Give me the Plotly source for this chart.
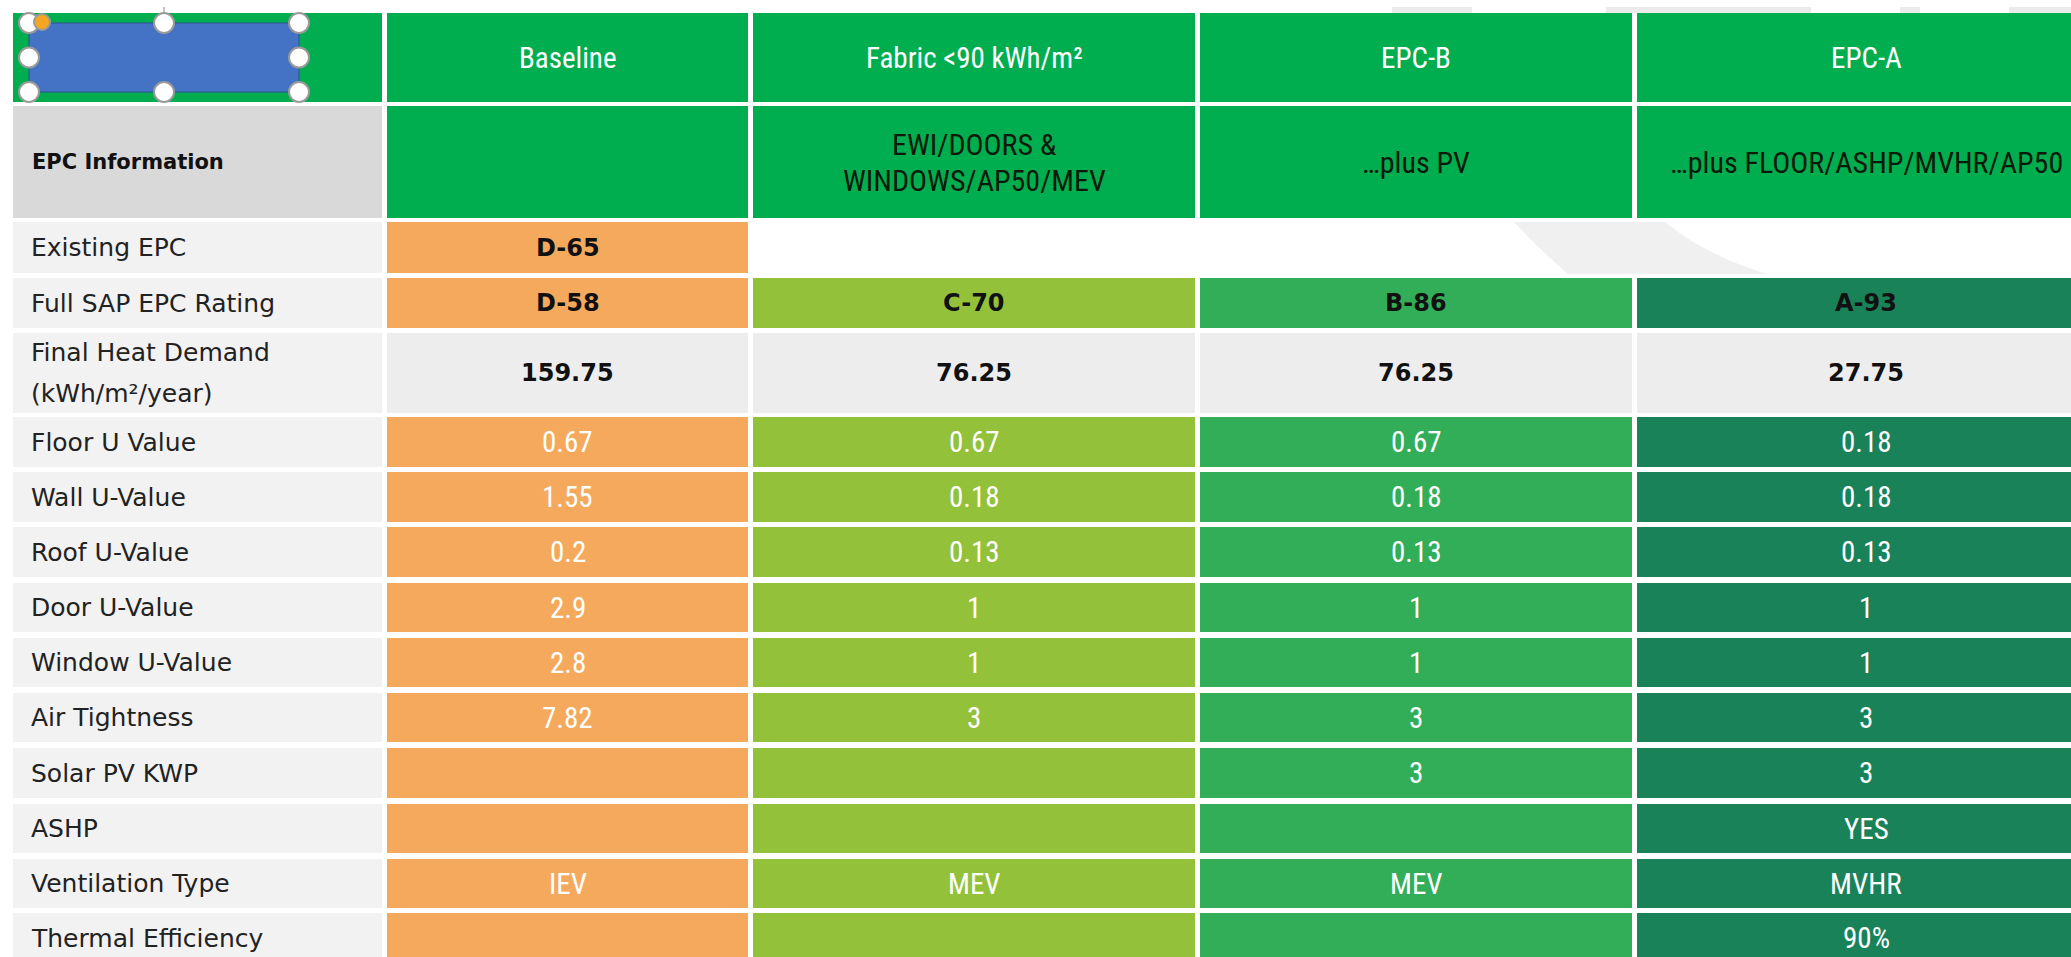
import plotly.graph_objects as go

# ---------------- data ----------------
scenarios = ["Baseline", "Fabric <90 kWh/m²", "EPC-B", "EPC-A"]
descriptions = ["", "EWI/DOORS &<br>WINDOWS/AP50/MEV", "…plus PV", "…plus FLOOR/ASHP/MVHR/AP50"]
section_label = "EPC Information"
row_labels = ["Existing EPC", "Full SAP EPC Rating", "Final Heat Demand<br>(kWh/m²/year)",
              "Floor U Value", "Wall U-Value", "Roof U-Value", "Door U-Value",
              "Window U-Value", "Air Tightness", "Solar PV KWP", "ASHP",
              "Ventilation Type", "Thermal Efficiency"]
existing_epc = ["D-65", None, None, None]
sap_rating = ["D-58", "C-70", "B-86", "A-93"]
heat_demand = ["159.75", "76.25", "76.25", "27.75"]
floor_u = ["0.67", "0.67", "0.67", "0.18"]
wall_u = ["1.55", "0.18", "0.18", "0.18"]
roof_u = ["0.2", "0.13", "0.13", "0.13"]
door_u = ["2.9", "1", "1", "1"]
window_u = ["2.8", "1", "1", "1"]
air_tightness = ["7.82", "3", "3", "3"]
solar_pv_kwp = ["", "", "3", "3"]
ashp = ["", "", "", "YES"]
ventilation = ["IEV", "MEV", "MEV", "MVHR"]
thermal_eff = ["", "", "", "90%"]

table_rows = [existing_epc, sap_rating, heat_demand, floor_u, wall_u, roof_u, door_u,
              window_u, air_tightness, solar_pv_kwp, ashp, ventilation, thermal_eff]

# ---------------- layout / style ----------------
W, H = 2071, 957
col_edges = [(13, 382), (387, 748), (753, 1195), (1200, 1632), (1637, 2095)]
header_edges = (13, 102)
desc_edges = (106, 218)
row_edges = [(222, 273), (278, 328), (333, 413), (417, 467), (472, 522), (527, 577),
             (583, 632), (638, 687), (693, 742), (748, 798), (804, 853), (859, 908), (913, 963)]

HEADER_GREEN = "#00AE4F"
scen_colors = ["#F5A95D", "#93C23A", "#33AE58", "#1A8259"]
LABEL_BG = "#F2F2F2"
SECTION_BG = "#D9D9D9"
DEMAND_BG = "#EDEDED"
WATERMARK = "#F0F0F0"

label_font = "'DejaVu Sans', Lato, sans-serif"
value_font = "'Liberation Sans Narrow', 'Roboto Condensed', 'Arial Narrow', Roboto, sans-serif"

shapes = []
annotations = []


def rect(x0, x1, y0, y1, color, line=None, lw=0):
    shapes.append(dict(type="rect", xref="x", yref="y", x0=x0, x1=x1, y0=y0, y1=y1,
                       fillcolor=color, line=dict(width=lw, color=line or color),
                       layer="below"))


def text(x, y, s, size, color, font, bold=False, align="center"):
    if bold:
        s = "<b>" + s + "</b>"
    annotations.append(dict(x=x, y=y, xref="x", yref="y", text=s, showarrow=False,
                            xanchor=align if align != "center" else "center",
                            yanchor="middle", align=align,
                            font=dict(size=size, color=color, family=font)))


# watermark pieces
shapes.append(dict(type="path", xref="x", yref="y", layer="below",
                   path="M 1514 222 L 1665 222 Q 1705 255 1767 274 L 1568 274 Q 1540 250 1514 222 Z",
                   fillcolor=WATERMARK, line=dict(width=0)))
for (a, b) in [(1392, 1472), (1606, 1811), (1900, 1920), (2009, 2071)]:
    rect(a, b, 7, 13, "#EBEBEB")

# header row
for j, (x0, x1) in enumerate(col_edges):
    rect(x0, x1, header_edges[0], header_edges[1], HEADER_GREEN)
    if j > 0:
        text((x0 + x1) / 2, (header_edges[0] + header_edges[1]) / 2, scenarios[j - 1],
             29, "white", value_font)

# description row
x0, x1 = col_edges[0]
rect(x0, x1, desc_edges[0], desc_edges[1], SECTION_BG)
text(30, (desc_edges[0] + desc_edges[1]) / 2, section_label, 21, "#111111", label_font,
     bold=True, align="left")
for j, (x0, x1) in enumerate(col_edges[1:]):
    rect(x0, x1, desc_edges[0], desc_edges[1], HEADER_GREEN)
    lines = descriptions[j].split("<br>") if descriptions[j] else []
    ym = (desc_edges[0] + desc_edges[1]) / 2
    for k, ln in enumerate(lines):
        text((x0 + x1) / 2, ym + (k - (len(lines) - 1) / 2) * 36, ln, 30, "#0A1A0A", value_font)

# body rows
for i, (lab, vals) in enumerate(zip(row_labels, table_rows)):
    y0, y1 = row_edges[i]
    ym = (y0 + y1) / 2
    lx0, lx1 = col_edges[0]
    rect(lx0, lx1, y0, y1, LABEL_BG)
    lab_lines = lab.split("<br>")
    for k, ln in enumerate(lab_lines):
        text(29, ym + (k - (len(lab_lines) - 1) / 2) * 41, ln, 25, "#222222", label_font,
             align="left")
    for j, (x0, x1) in enumerate(col_edges[1:]):
        v = vals[j]
        if v is None:
            continue
        is_demand = lab.startswith("Final Heat")
        bg = DEMAND_BG if is_demand else scen_colors[j]
        rect(x0, x1, y0, y1, bg)
        if v == "":
            continue
        bold = i <= 2
        if bold:
            text((x0 + x1) / 2, ym, v, 24, "#111111", label_font, bold=True)
        else:
            text((x0 + x1) / 2, ym, v, 29, "white", value_font)

# selected-shape artefact (blue box with handles)
rect(29, 299, 23, 92, "#4472C4", line="#2F528F", lw=1)
shapes.append(dict(type="line", xref="x", yref="y", x0=164, x1=164, y0=7, y1=13,
                   line=dict(color="#8A8A8A", width=1)))
for (cx, cy) in [(29, 23), (164, 23), (299, 23), (29, 57.5), (299, 57.5),
                 (29, 92), (164, 92), (299, 92)]:
    shapes.append(dict(type="circle", xref="x", yref="y", x0=cx - 10, x1=cx + 10,
                       y0=cy - 10, y1=cy + 10, fillcolor="white",
                       line=dict(color="#9A9A9A", width=2)))
shapes.append(dict(type="circle", xref="x", yref="y", x0=34, x1=50, y0=14, y1=30,
                   fillcolor="#F5A623", line=dict(color="#9A9A9A", width=2)))

fig = go.Figure()
fig.add_trace(go.Scatter(x=[0, W], y=[0, H], mode="markers", marker=dict(opacity=0),
                         hoverinfo="skip", showlegend=False))
fig.update_layout(
    width=W, height=H, margin=dict(l=0, r=0, t=0, b=0),
    paper_bgcolor="white", plot_bgcolor="white",
    xaxis=dict(range=[0, W], visible=False, fixedrange=True),
    yaxis=dict(range=[H, 0], visible=False, fixedrange=True),
    shapes=shapes, annotations=annotations, showlegend=False,
)
fig.write_html("out.html", config={"displayModeBar": False},
               post_script="document.body.style.margin='0';document.body.style.overflow='hidden';")
